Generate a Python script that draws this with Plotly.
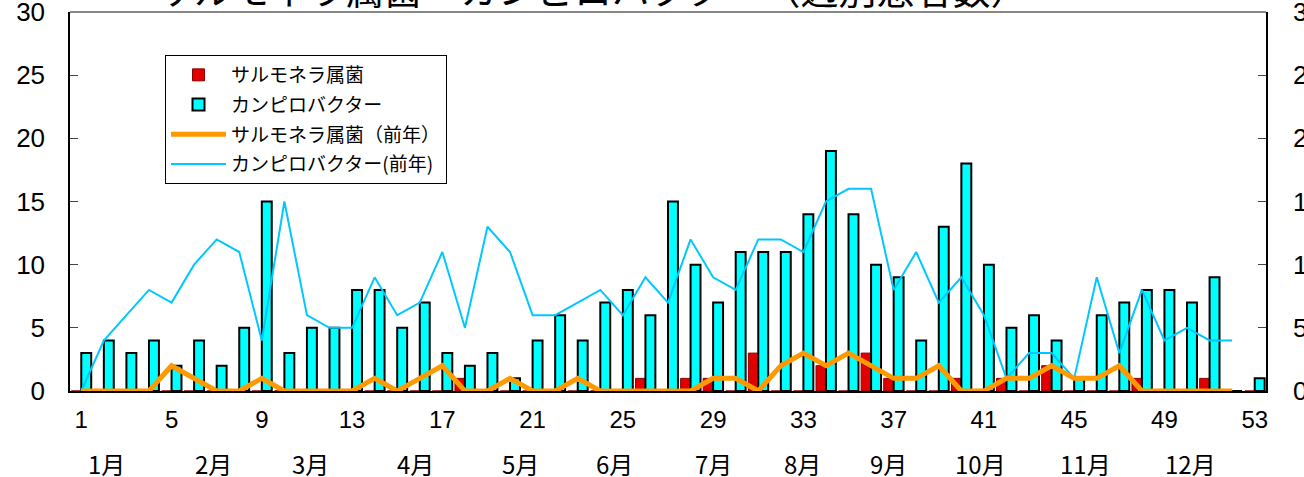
import plotly.graph_objects as go

weeks = list(range(1, 54))
salmonella = [0, 0, 0, 0, 0, 0, 0, 0, 0, 0, 0, 0, 0, 0, 0, 0, 0,
              1, 0, 0, 0, 0, 0, 0, 0, 1, 0, 1, 1, 0, 3, 0, 0, 2, 0, 3, 1,
              0, 0, 1, 0, 1, 0, 2, 0, 0, 0, 1, 0, 0, 1, 0, 0]
campylobacter = [3, 4, 3, 4, 2, 4, 2, 5, 15, 3, 5, 5, 8, 8, 5, 7, 3, 2, 3, 1,
                 4, 6, 4, 7, 8, 6, 15, 10, 7, 11, 11, 11, 14, 19, 14, 10, 9, 4,
                 13, 18, 10, 5, 6, 4, 1, 6, 7, 8, 8, 7, 9, 0, 1]
prev_weeks = list(range(1, 53))
salmonella_prev = [0, 0, 0, 0, 2, 1, 0, 0, 1, 0, 0, 0, 0, 1, 0, 1, 2, 0, 0, 1,
                   0, 0, 1, 0, 0, 0, 0, 0, 1, 1, 0, 2, 3, 2, 3, 2, 1, 1, 2, 0,
                   0, 1, 1, 2, 1, 1, 2, 0, 0, 0, 0, 0]
campylobacter_prev = [0, 4, 6, 8, 7, 10, 12, 11, 4, 15, 6, 5, 5, 9, 6, 7, 11, 5,
                      13, 11, 6, 6, 7, 8, 6, 9, 7, 12, 9, 8, 12, 12, 11, 15, 16,
                      16, 8, 11, 7, 9, 6, 1, 3, 3, 1, 9, 3, 8, 4, 5, 4, 4]
tick_weeks = [1, 5, 9, 13, 17, 21, 25, 29, 33, 37, 41, 45, 49, 53]
month_labels = ["1月", "2月", "3月", "4月", "5月", "6月", "7月", "8月", "9月",
                "10月", "11月", "12月"]
month_pos = [2.1, 6.85, 11.15, 15.8, 20.45, 24.65, 29.0, 32.95, 36.75, 40.85,
             45.5, 50.15]
yticks = [0, 5, 10, 15, 20, 25, 30]

JP = "Noto Sans CJK JP"
NUM = "Liberation Sans, Arial, sans-serif"

fig = go.Figure()
fig.add_trace(go.Bar(x=weeks, y=salmonella, name="サルモネラ属菌",
                     marker=dict(color="#E00000", line=dict(color="#8B0000", width=1)),
                     legendrank=1, legendgroup="a"))
fig.add_trace(go.Bar(x=weeks, y=campylobacter, name="カンピロバクター",
                     marker=dict(color="#00FFFF", line=dict(color="#000000", width=2)),
                     legendrank=2, legendgroup="b"))
fig.add_trace(go.Scatter(x=prev_weeks, y=campylobacter_prev, name="カンピロバクター(前年)",
                         mode="lines", line=dict(color="#00C8FF", width=2),
                         yaxis="y2", legendrank=4, legendgroup="d"))
fig.add_trace(go.Scatter(x=prev_weeks, y=salmonella_prev, name="サルモネラ属菌（前年）",
                         mode="lines", line=dict(color="#FF9900", width=5),
                         yaxis="y2", legendrank=3, legendgroup="c"))

annotations = []
for lab, pos in zip(month_labels, month_pos):
    annotations.append(dict(x=pos, y=-0.19, xref="x", yref="paper", text=lab,
                            showarrow=False, yanchor="middle", xanchor="center",
                            font=dict(family=JP, size=24, color="#000")))
annotations.append(dict(x=(592 - 70) / 1196, y=1, xref="paper", yref="paper",
                        text="サルモネラ属菌・カンピロバクター（週別患者数）",
                        showarrow=False, yanchor="bottom", xanchor="center", yshift=-5,
                        font=dict(family=JP, size=38, color="#000")))

fig.update_layout(
    width=1304, height=477,
    margin=dict(l=70, r=38, t=12, b=86, autoexpand=False),
    paper_bgcolor="white", plot_bgcolor="white",
    barmode="group", bargap=0.12, bargroupgap=0,
    showlegend=True,
    legend=dict(x=(165 - 70) / 1196, y=1 - (55 - 12) / 379, xanchor="left", yanchor="top",
                bgcolor="white", bordercolor="#000", borderwidth=1,
                font=dict(family=JP, size=19, color="#000"), tracegroupgap=2,
                itemwidth=55),
    xaxis=dict(range=[0.5, 53.5], tickmode="array", tickvals=tick_weeks,
               ticktext=[str(t) for t in tick_weeks], ticks="", showgrid=False,
               showline=True, linecolor="#000", linewidth=1.5, zeroline=False,
               tickfont=dict(family=NUM, size=24, color="#000"), ticklabelstandoff=6,
               automargin=False),
    yaxis=dict(range=[0, 30], tickmode="array", tickvals=yticks, ticks="inside",
               ticklen=8, tickcolor="#444", showgrid=False, showline=True,
               linecolor="#000", linewidth=1.5, zeroline=False,
               tickfont=dict(family=NUM, size=26, color="#000"), ticklabelstandoff=18,
               ticklabeloverflow="allow", automargin=False),
    yaxis2=dict(range=[0, 30], overlaying="y", side="right", tickmode="array",
                tickvals=yticks, ticks="inside", ticklen=8, tickcolor="#444",
                showgrid=False, showline=True, linecolor="#000", linewidth=1.5,
                zeroline=False, tickfont=dict(family=NUM, size=26, color="#000"),
                ticklabelstandoff=20, ticklabeloverflow="allow", automargin=False),
    annotations=annotations,
    shapes=[dict(type="line", xref="paper", yref="paper", x0=0, x1=1, y0=1, y1=1,
                 line=dict(color="#888", width=2))],
)

fig.write_html("out.html", config={"displayModeBar": False},
               post_script="document.body.style.margin='0';")
